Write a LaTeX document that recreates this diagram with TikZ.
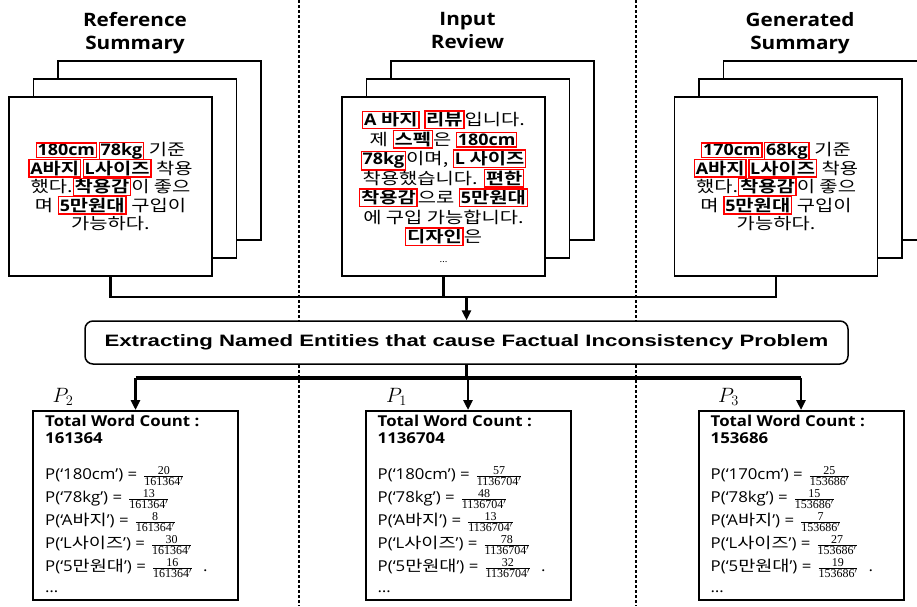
\documentclass[tikz,border=0pt]{standalone}
\usepackage{fontspec}
\setmainfont{Open Sans}[FakeStretch=1.12]
\newfontfamily\krfont{Noto Sans CJK KR}[FakeStretch=1.24, BoldFont={* Bold}]
\newfontfamily\barfont{Liberation Sans}[FakeStretch=1.345]
\newfontfamily\fracfont{Liberation Serif}
\usetikzlibrary{positioning}
\usetikzlibrary{arrows.meta}

\newcommand{\kor}[1]{{\krfont #1}}
\newcommand{\entbox}[1]{{\setlength{\fboxsep}{0.6pt}\setlength{\fboxrule}{1.4pt}\fcolorbox{red}{white}{\bfseries #1}}}
\newcommand{\tightlines}{\setlength{\lineskiplimit}{-50pt}}
\newcommand{\prob}[2]{{\fracfont\fontsize{12}{14}\selectfont$\frac{\mbox{#1}}{\mbox{#2$'$}}$}}

\tikzset{
  divider/.style={line width=1.4pt, dash pattern=on 3pt off 2pt},
  heading/.style={align=center, anchor=north, inner sep=0pt, font=\bfseries\fontsize{18.5}{23}\selectfont},
  page/.style={draw, line width=1.5pt, fill=white, minimum width=203pt, minimum height=179pt, inner sep=0pt},
  doctext/.style={align=center, font=\fontsize{16}{18.5}\selectfont\tightlines},
  extract/.style={draw, line width=1.5pt, fill=white, rounded corners=8pt, minimum width=763pt, minimum height=43pt, font=\barfont\bfseries\fontsize{16.5}{20}\selectfont},
  link/.style={line width=2.6pt},
  bus/.style={line width=3.6pt},
  probbox/.style={draw, line width=2pt, minimum width=205pt, minimum height=189pt, inner sep=0pt},
  plabel/.style={inner sep=0pt, font=\fontsize{20}{22}\selectfont},
  counthead/.style={anchor=base west, inner sep=0pt, font=\bfseries\fontsize{15}{17}\selectfont},
  pline/.style={anchor=base west, inner sep=0pt, font=\fontsize{15}{17}\selectfont},
  >={Triangle[width=9pt,length=10pt]}
}

\begin{document}
\begin{tikzpicture}[x=1pt, y=-1pt]
\useasboundingbox (0,0) rectangle (917,606);
\clip (0,0) rectangle (917,606);

% column dividers
\foreach \x in {299,636}
  \draw[divider] (\x,0) -- (\x,606);

% headings
\node[heading] (headR) at (135,12.5) {Reference\\Summary};
\node[heading] (headI) at (467.5,12.5) {Input\\Review};
\node[heading] (headG) at (800,12.5) {Generated\\Summary};

% stacked pages behind each document
\foreach \d/\x in {R/110.5, I/443.5, G/776} {
  \node[page] (doc\d3) at (\x+49,150.5) {};
  \node[page] (doc\d2) at (\x+24.5,168.5) {};
}

\node[page, doctext] (docR) at (110.5,186.5) {%
  \entbox{180cm}\hspace{1.5pt}\entbox{78kg} \kor{기준}\\
  \entbox{A\kor{바지}}\hspace{1.5pt}\entbox{L\kor{사이즈}} \kor{착용}\\
  \kor{했다.}\entbox{\kor{착용감}}\kor{이 좋으}\\
  \kor{며} \entbox{5\kor{만원대}} \kor{구입이}\\
  \kor{가능하다.}};

\node[page, doctext, font=\fontsize{16}{19.5}\selectfont\tightlines] (docI) at (443.5,186.5) {%
  \entbox{A \kor{바지}} \entbox{\kor{리뷰}}\kor{입니다.}\\
  \kor{제} \entbox{\kor{스펙}}\kor{은} \entbox{180cm}\\
  \entbox{78kg}\kor{이며,} \entbox{L \kor{사이즈}}\\
  \kor{착용했습니다.} \entbox{\kor{편한}}\\
  \entbox{\kor{착용감}}\kor{으로} \entbox{5\kor{만원대}}\\
  \kor{에 구입 가능합니다.}\\
  \entbox{\kor{디자인}}\kor{은}\\
  {\small\ldots}};

\node[page, doctext] (docG) at (776,186.5) {%
  \entbox{170cm}\hspace{1.5pt}\entbox{68kg} \kor{기준}\\
  \entbox{A\kor{바지}}\hspace{1.5pt}\entbox{L\kor{사이즈}} \kor{착용}\\
  \kor{했다.}\entbox{\kor{착용감}}\kor{이 좋으}\\
  \kor{며} \entbox{5\kor{만원대}} \kor{구입이}\\
  \kor{가능하다.}};

% extraction step
\node[extract] (extract) at (466.5,342.5) {Extracting Named Entities that cause Factual Inconsistency Problem};

\coordinate (merge) at (466.5,297);
\draw[link] (docR.south) |- (merge) -| (docG.south);
\draw[link] (docI.south) -- (docI.south |- merge);
\draw[link, ->] (merge) -- (extract.north);

% probability boxes
\node[probbox] (probR) at (135.5,505.5) {};
\node[probbox] (probI) at (468,505.5) {};
\node[probbox] (probG) at (801,505.5) {};

\coordinate (fork) at (466.5,378);
\draw[bus] (extract.south) -- (fork);
\draw[bus] (probR.north |- fork) -- (probG.north |- fork);
\foreach \p in {probR, probI, probG}
  \draw[link, ->] (\p.north |- fork) -- (\p.north);

\node[plabel] (labR) at ([xshift=31pt,yshift=13pt]probR.north west) {$P_2$};
\node[plabel] (labI) at ([xshift=32pt,yshift=13pt]probI.north west) {$P_1$};
\node[plabel] (labG) at ([xshift=31pt,yshift=13pt]probG.north west) {$P_3$};

% reference summary counts
\node[counthead] (totR) at ([xshift=13pt,yshift=-16pt]probR.north west) {Total Word Count :};
\node[counthead] (numR) at ([yshift=-17pt]totR.base west) {161364};
\foreach [count=\i] \w/\c in {180cm/20, 78kg/13, A\kor{바지}/8, L\kor{사이즈}/30, 5\kor{만원대}/16}
  \node[pline] (pR\i) at ([yshift={-36pt-23pt*(\i-1)}]numR.base west) {P(‘\w’) =\hspace{6pt}\prob{\c}{161364}\ifnum\i=5\hspace{10pt}.\fi};
\node[pline] (dotsR) at ([yshift=-21pt]pR5.base west) {\ldots};

% input review counts
\node[counthead] (totI) at ([xshift=13pt,yshift=-16pt]probI.north west) {Total Word Count :};
\node[counthead] (numI) at ([yshift=-17pt]totI.base west) {1136704};
\foreach [count=\i] \w/\c in {180cm/57, 78kg/48, A\kor{바지}/13, L\kor{사이즈}/78, 5\kor{만원대}/32}
  \node[pline] (pI\i) at ([yshift={-36pt-23pt*(\i-1)}]numI.base west) {P(‘\w’) =\hspace{6pt}\prob{\c}{1136704}\ifnum\i=5\hspace{10pt}.\fi};
\node[pline] (dotsI) at ([yshift=-21pt]pI5.base west) {\ldots};

% generated summary counts
\node[counthead] (totG) at ([xshift=13pt,yshift=-16pt]probG.north west) {Total Word Count :};
\node[counthead] (numG) at ([yshift=-17pt]totG.base west) {153686};
\foreach [count=\i] \w/\c in {170cm/25, 78kg/15, A\kor{바지}/7, L\kor{사이즈}/27, 5\kor{만원대}/19}
  \node[pline] (pG\i) at ([yshift={-36pt-23pt*(\i-1)}]numG.base west) {P(‘\w’) =\hspace{6pt}\prob{\c}{153686}\ifnum\i=5\hspace{10pt}.\fi};
\node[pline] (dotsG) at ([yshift=-21pt]pG5.base west) {\ldots};
\end{tikzpicture}
\end{document}
